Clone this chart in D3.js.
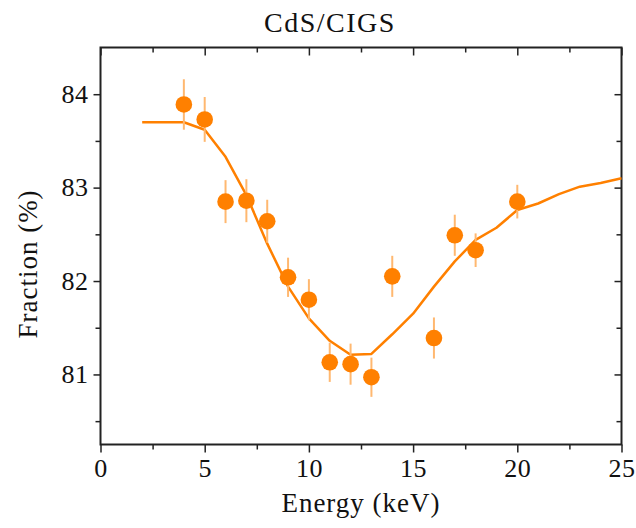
<!DOCTYPE html>
<html>
<head>
<meta charset="utf-8">
<script src="https://cdn.jsdelivr.net/npm/d3@7"></script>
<style>
  body { margin: 0; background: #fff; }
</style>
</head>
<body>
<div id="chart"></div>
<script>
// measured points with error bars
var energy = [4, 5, 6, 7, 8, 9, 10, 11, 12, 13, 14, 16, 17, 18, 20];
var fraction = [83.89, 83.73, 82.85, 82.86, 82.64, 82.04, 81.80, 81.13, 81.11, 80.97, 82.05, 81.39, 82.49, 82.33, 82.85];
var fracErr = [0.27, 0.24, 0.23, 0.23, 0.23, 0.21, 0.22, 0.21, 0.22, 0.21, 0.22, 0.22, 0.22, 0.18, 0.18];

// fitted curve
var fitEnergy = [2, 4, 5, 6, 7, 8, 9, 10, 11, 12, 13, 14, 15, 16, 17, 18, 19, 20, 21, 22, 23, 24, 25];
var fitFraction = [83.70, 83.70, 83.62, 83.33, 82.92, 82.40, 81.94, 81.60, 81.36, 81.21, 81.22, 81.43, 81.65, 81.94, 82.21, 82.44, 82.57, 82.76, 82.83, 82.93, 83.01, 83.05, 83.10];

var xTicks = [0, 5, 10, 15, 20, 25];
var xMinor = [2.5, 7.5, 12.5, 17.5, 22.5];
var yTicks = [81, 82, 83, 84];
var yMinor = [80.5, 81.5, 82.5, 83.5];

var svgWidth = 636;
var svgHeight = 528;
var fontFamily = "'Liberation Serif', 'DejaVu Serif', serif";

var chartMargin = { top: 47.5, right: 14.5, bottom: 83.5, left: 100.5 };

var width = svgWidth - chartMargin.left - chartMargin.right;
var height = svgHeight - chartMargin.top - chartMargin.bottom;

var svg = d3
  .select("#chart")
  .append("svg")
  .attr("width", svgWidth)
  .attr("height", svgHeight);

var chartGroup = svg
  .append("g")
  .attr("transform", `translate(${chartMargin.left}, ${chartMargin.top})`);

var xScale = d3.scaleLinear().domain([0, 25]).range([0, width]);
var yScale = d3.scaleLinear().domain([80.25, 84.5]).range([height, 0]);

var axisColor = "#222";

function styleAxis(g) {
  g.attr("font-family", fontFamily).attr("font-size", 26);
  g.select(".domain").remove();
  g.selectAll(".tick line").attr("stroke", axisColor).attr("stroke-width", 1.5);
  g.selectAll(".tick text").attr("fill", "#111").attr("letter-spacing", 0.5);
}

// bottom axis (outward ticks)
chartGroup.append("g")
  .attr("transform", `translate(0, ${height})`)
  .call(d3.axisBottom(xScale).tickValues(xMinor).tickSize(5).tickFormat(""))
  .call(styleAxis);
chartGroup.append("g")
  .attr("transform", `translate(0, ${height})`)
  .call(d3.axisBottom(xScale).tickValues(xTicks).tickSize(8).tickPadding(6).tickFormat(d3.format("d")))
  .call(styleAxis);

// top axis (inward ticks)
chartGroup.append("g")
  .call(d3.axisBottom(xScale).tickValues(xMinor).tickSize(5).tickFormat(""))
  .call(styleAxis);
chartGroup.append("g")
  .call(d3.axisBottom(xScale).tickValues(xTicks).tickSize(8).tickFormat(""))
  .call(styleAxis);

// left axis (outward ticks)
chartGroup.append("g")
  .call(d3.axisLeft(yScale).tickValues(yMinor).tickSize(5).tickFormat(""))
  .call(styleAxis);
chartGroup.append("g")
  .call(d3.axisLeft(yScale).tickValues(yTicks).tickSize(7).tickPadding(5).tickFormat(d3.format("d")))
  .call(styleAxis);

// right axis (inward ticks)
chartGroup.append("g")
  .attr("transform", `translate(${width}, 0)`)
  .call(d3.axisLeft(yScale).tickValues(yMinor).tickSize(5).tickFormat(""))
  .call(styleAxis);
chartGroup.append("g")
  .attr("transform", `translate(${width}, 0)`)
  .call(d3.axisLeft(yScale).tickValues(yTicks).tickSize(7).tickFormat(""))
  .call(styleAxis);

// frame
chartGroup.append("rect")
  .attr("x", 0)
  .attr("y", 0)
  .attr("width", width)
  .attr("height", height)
  .attr("fill", "none")
  .attr("stroke", axisColor)
  .attr("stroke-width", 2);

// fit line
var line = d3.line()
  .x((d, i) => xScale(fitEnergy[i]))
  .y((d) => yScale(d));

chartGroup.append("path")
  .datum(fitFraction)
  .attr("d", line)
  .attr("fill", "none")
  .attr("stroke", "#ff8000")
  .attr("stroke-width", 2.5)
  .attr("stroke-linejoin", "round");

// error bars
chartGroup.selectAll(".err")
  .data(fraction)
  .enter()
  .append("line")
  .attr("class", "err")
  .attr("x1", (d, i) => xScale(energy[i]))
  .attr("x2", (d, i) => xScale(energy[i]))
  .attr("y1", (d, i) => yScale(d - fracErr[i]))
  .attr("y2", (d, i) => yScale(d + fracErr[i]))
  .attr("stroke", "#ffb870")
  .attr("stroke-width", 2);

// points
chartGroup.selectAll("circle")
  .data(fraction)
  .enter()
  .append("circle")
  .attr("cx", (d, i) => xScale(energy[i]))
  .attr("cy", (d) => yScale(d))
  .attr("r", 8.3)
  .attr("fill", "#ff8000");

// title
svg.append("text")
  .attr("x", 330)
  .attr("y", 32)
  .attr("text-anchor", "middle")
  .attr("font-family", fontFamily)
  .attr("font-size", 28)
  .attr("letter-spacing", 1.5)
  .attr("fill", "#111")
  .text("CdS/CIGS");

// x label
svg.append("text")
  .attr("x", chartMargin.left + width / 2)
  .attr("y", 512)
  .attr("text-anchor", "middle")
  .attr("font-family", fontFamily)
  .attr("font-size", 27)
  .attr("letter-spacing", 1)
  .attr("fill", "#111")
  .text("Energy (keV)");

// y label
svg.append("text")
  .attr("transform", `translate(37, ${chartMargin.top + height / 2 + 18}) rotate(-90)`)
  .attr("text-anchor", "middle")
  .attr("font-family", fontFamily)
  .attr("font-size", 27)
  .attr("letter-spacing", 1)
  .attr("fill", "#111")
  .text("Fraction (%)");
</script>
</body>
</html>
